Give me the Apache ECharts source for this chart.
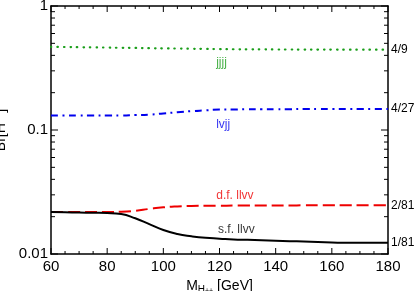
<!DOCTYPE html>
<html><head><meta charset="utf-8">
<script src="https://cdn.jsdelivr.net/npm/echarts@6/dist/echarts.min.js"></script>
<style>html,body{margin:0;padding:0;background:#fff}#c{width:415px;height:291px}</style>
</head><body><div id="c"></div>
<script>
const mass = [60,65,70,75,80,85,90,95,100,105,110,115,120,125,130,135,140,145,150,155,160,165,170,175,180];
const jjjj = [0.468,0.467,0.465,0.464,0.462,0.460,0.459,0.457,0.455,0.454,0.452,0.451,0.449,0.448,0.447,0.447,0.446,0.446,0.445,0.445,0.445,0.444,0.444,0.444,0.444];
const lvjj = [0.131,0.131,0.131,0.131,0.131,0.131,0.132,0.133,0.136,0.139,0.142,0.144,0.146,0.146,0.147,0.147,0.147,0.147,0.148,0.148,0.148,0.148,0.148,0.148,0.148];
const dfllvv = [0.0218,0.0218,0.0218,0.0218,0.0218,0.0219,0.0223,0.0231,0.0238,0.0242,0.0244,0.0245,0.0245,0.0246,0.0246,0.0246,0.0246,0.0246,0.0247,0.0247,0.0247,0.0247,0.0247,0.0247,0.0247];
const sfllvv = [0.0218,0.0217,0.0216,0.0215,0.0214,0.0210,0.0194,0.0174,0.0156,0.0145,0.0139,0.0135,0.0133,0.0131,0.0130,0.0129,0.0128,0.0127,0.0126,0.0125,0.0124,0.0123,0.0123,0.0123,0.0123];
const endLabels = ['4/9','4/27','2/81','1/81'];
const seriesNames = ['jjjj','lvjj','d.f. llvv','s.f. llvv'];
const seriesColors = ['#1a9e1a','#0000ee','#ee0000','#000000'];
const nameAt = [[120.7,0.347],[121.3,0.110],[125.5,0.0295],[126,0.0156]];
const yTickLabels = {1:'1',0.1:'0.1',0.01:'0.01'};
const xMajorTicks = [60,80,100,120,140,160,180];
const xMinorTicks = [65,70,75,85,90,95,105,110,115,125,130,135,145,150,155,165,170,175];
const yMajorTicks = [0.01,0.1,1];
const yMinorTicks = [0.02,0.03,0.04,0.05,0.06,0.07,0.08,0.09,0.2,0.3,0.4,0.5,0.6,0.7,0.8,0.9];

const font = '"Liberation Sans", Arial, Helvetica, sans-serif';
const chart = echarts.init(document.getElementById('c'), null, {renderer:'canvas'});
const values = [jjjj, lvjj, dfllvv, sfllvv];
const styles = [
  {type:[0.5,6], width:2.2, cap:'round'},
  {type:[7,4.5,2,4.5], width:2},
  {type:[12,5], width:2},
  {type:'solid', width:2}
];
const series = values.map((arr,i)=>({
  type:'line', name:seriesNames[i], data: mass.map((m,j)=>[m,arr[j]]),
  showSymbol:false, symbol:'none', smooth:true, silent:true,
  lineStyle:{color:seriesColors[i], width:styles[i].width, type:styles[i].type, cap:styles[i].cap||'butt'},
  endLabel:{show:true, formatter:endLabels[i], color:'#000', fontSize:12, fontFamily:font, distance:3}
}));
series.push({
  type:'scatter', silent:true, symbolSize:0,
  data: nameAt.map((p,i)=>({value:p, label:{show:true, formatter:seriesNames[i], color:seriesColors[i], position:'inside', fontSize:12, fontFamily:font}}))
});
// tick marks drawn as thin rectangle symbols placed through the axes' scales
function tickSeries(items){
  return {type:'scatter', silent:true, clip:false, symbol:'rect', z:5,
    itemStyle:{color:'#000', opacity:1}, data: items};
}
const tickItems = [];
xMajorTicks.forEach(v=>{
  tickItems.push({value:[v,0.01], symbolSize:[1,6], symbolOffset:[0,-3]});
  tickItems.push({value:[v,1], symbolSize:[1,6], symbolOffset:[0,3]});
});
xMinorTicks.forEach(v=>{
  tickItems.push({value:[v,0.01], symbolSize:[1,3], symbolOffset:[0,-1.5]});
  tickItems.push({value:[v,1], symbolSize:[1,3], symbolOffset:[0,1.5]});
});
yMajorTicks.forEach(v=>{
  tickItems.push({value:[60,v], symbolSize:[7,1], symbolOffset:[3.5,0]});
  tickItems.push({value:[180,v], symbolSize:[7,1], symbolOffset:[-3.5,0]});
});
yMinorTicks.forEach(v=>{
  tickItems.push({value:[60,v], symbolSize:[4,1], symbolOffset:[2,0]});
  tickItems.push({value:[180,v], symbolSize:[4,1], symbolOffset:[-2,0]});
});
series.push(tickSeries(tickItems));

function xAx(pos, showLabel){
  return {type:'value', min:60, max:180, interval:20, position:pos,
    axisLine:{show:true, onZero:false, lineStyle:{color:'#000', width:1.5}},
    axisTick:{show:false}, minorTick:{show:false}, splitLine:{show:false},
    axisLabel:{show:showLabel, fontSize:15, color:'#000', fontFamily:font, margin:5}};
}
function yAx(pos, showLabel){
  return {type:'log', logBase:10, min:0.01, max:1, position:pos,
    axisLine:{show:true, onZero:false, lineStyle:{color:'#000', width:1.5}},
    axisTick:{show:false}, minorTick:{show:false}, splitLine:{show:false},
    axisLabel:{show:showLabel, fontSize:15, color:'#000', fontFamily:font, margin:3, formatter:v=>yTickLabels[+(+v).toPrecision(3)]||''}};
}
const xb = xAx('bottom', true);
xb.name='{m|M}{s|H}{p|++}{m| [GeV]}'; xb.nameLocation='middle'; xb.nameGap=21;
xb.nameTextStyle={rich:{m:{fontSize:14, color:'#000', fontFamily:font}, s:{fontSize:10, color:'#000', fontFamily:font, verticalAlign:'bottom', padding:[8,0,0,0]}, p:{fontSize:7, color:'#000', fontFamily:font, verticalAlign:'bottom', padding:[0,0,0,0]}}};
const yl = yAx('left', true);
yl.name='{m|Br[H}{s|++}{m|]}'; yl.nameLocation='middle'; yl.nameGap=28;
yl.nameTextStyle={rich:{m:{fontSize:14, color:'#000', fontFamily:font}, s:{fontSize:9, color:'#000', fontFamily:font, verticalAlign:'top', padding:[0,0,8,0]}}};
chart.setOption({
  animation:false,
  grid:{left:51, right:27, top:6, bottom:37, containLabel:false, outerBoundsMode:'none'},
  xAxis:[xb, xAx('top', false)],
  yAxis:[yl, yAx('right', false)],
  series: series
});
</script></body></html>
